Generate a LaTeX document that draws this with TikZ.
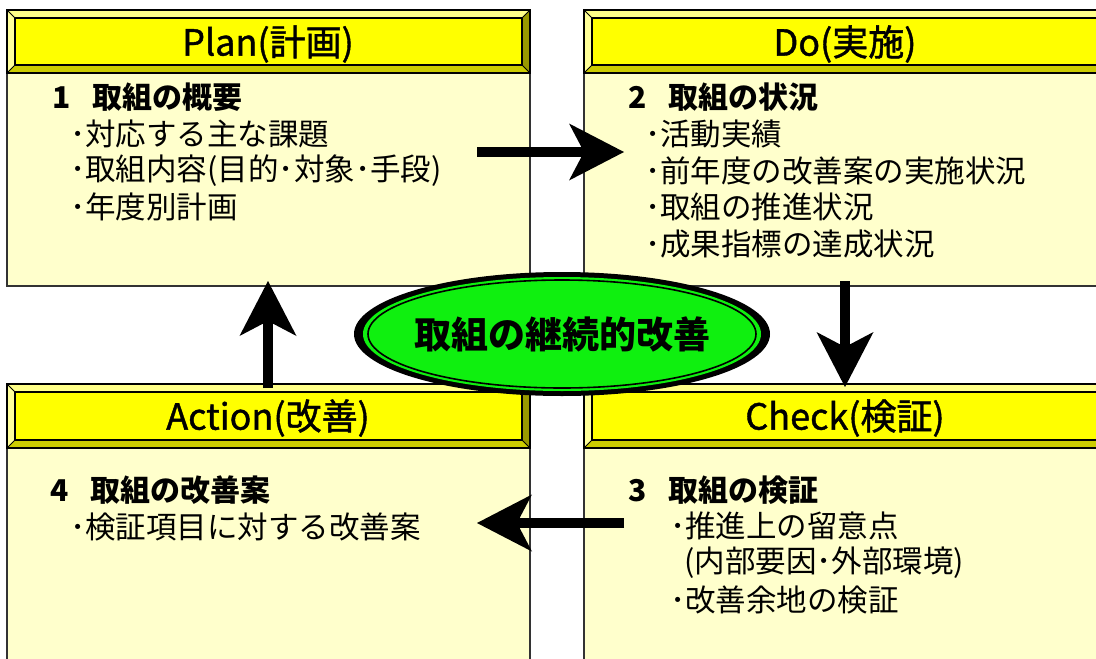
\documentclass[tikz,border=0pt]{standalone}
\usepackage{fontspec}
\setmainfont{Noto Sans CJK JP}
\newfontfamily\hdrfont[FakeBold=1.2]{Noto Sans CJK JP}
\usetikzlibrary{arrows.meta}
\definecolor{hdrfill}{HTML}{FFFF00}
\definecolor{bevtop}{HTML}{FFFF88}
\definecolor{bevleft}{HTML}{FFFF99}
\definecolor{bevbot}{HTML}{CCCC00}
\definecolor{bevright}{HTML}{999900}
\definecolor{bodyfill}{HTML}{FFFFCC}
\definecolor{ovalgreen}{HTML}{0FF00F}
\tikzset{
  hdrtext/.style={font=\hdrfont\fontsize{36}{40}\selectfont, inner sep=0pt},
  ttl/.style={anchor=west, font=\fontsize{30}{34}\selectfont\bfseries, inner sep=0pt},
  itm/.style={anchor=west, font=\fontsize{30.5}{34}\selectfont, inner sep=0pt},
  ovaltext/.style={font=\fontsize{37}{40}\selectfont\bfseries, inner sep=0pt},
  bigarrow/.style={line width=10pt, -{Stealth[length=55pt,width=57pt,inset=15pt,line width=0pt]}},
}
% #1 x1, #2 y1 (top), #3 x2, #4 y2 (header bottom), #5 y3 (body bottom)
\newcommand{\pdcabox}[5]{%
  \fill[bodyfill] (#1,#4) rectangle (#3,#5);
  \draw[draw=black!80, line width=1.3pt] (#1,#4) rectangle (#3,#5);
  \fill[bevtop] (#1,#2) -- (#3,#2) -- (#3-8,#2+8) -- (#1+8,#2+8) -- cycle;
  \fill[bevleft] (#1,#2) -- (#1+8,#2+8) -- (#1+8,#4-8) -- (#1,#4) -- cycle;
  \fill[bevbot] (#1,#4) -- (#1+8,#4-8) -- (#3-8,#4-8) -- (#3,#4) -- cycle;
  \fill[bevright] (#3,#2) -- (#3,#4) -- (#3-8,#4-8) -- (#3-8,#2+8) -- cycle;
  \fill[hdrfill] (#1+8,#2+8) rectangle (#3-8,#4-8);
  \draw[line width=1.4pt] (#1,#2) rectangle (#3,#4);
  \draw[line width=1.4pt] (#1+8,#2+8) rectangle (#3-8,#4-8);
  \draw[line width=0.8pt] (#1,#2) -- (#1+8,#2+8) (#3,#2) -- (#3-8,#2+8)
     (#1,#4) -- (#1+8,#4-8) (#3,#4) -- (#3-8,#4-8);
}
\begin{document}
\begin{tikzpicture}[x=1pt,y=-1pt]
\useasboundingbox (0,0) rectangle (1096,659);
\fill[white] (0,0) rectangle (1096,659);
\clip (0,0) rectangle (1096,659);

% boxes
\pdcabox{7}{10}{530}{73}{286}
\pdcabox{584}{10}{1106}{73}{286}
\pdcabox{7}{384}{530}{448}{680}
\pdcabox{584}{384}{1106}{448}{680}

% header titles
\node[hdrtext] (planhdr) at (268,44) {Plan(計画)};
\node[hdrtext] (dohdr) at (845,44) {Do(実施)};
\node[hdrtext] (acthdr) at (268,418) {Action(改善)};
\node[hdrtext] (chkhdr) at (845,418) {Check(検証)};

% Plan body
\node[ttl] (plant) at (52,97) {1\hspace{22pt}取組の概要};
\node[itm] (plan1) at (70,134) {･対応する主な課題};
\node[itm] (plan2) at (70,171) {･取組内容(目的･対象･手段)};
\node[itm] (plan3) at (70,207) {･年度別計画};

% Do body
\node[ttl] (dot) at (628,97) {2\hspace{22pt}取組の状況};
\node[itm] (do1) at (645,134) {･活動実績};
\node[itm] (do2) at (645,171) {･前年度の改善案の実施状況};
\node[itm] (do3) at (645,207) {･取組の推進状況};
\node[itm] (do4) at (645,244) {･成果指標の達成状況};

% Check body
\node[ttl] (chkt) at (628,490) {3\hspace{22pt}取組の検証};
\node[itm] (chk1) at (670,526) {･推進上の留意点};
\node[itm] (chk2) at (684,563) {(内部要因･外部環境)};
\node[itm] (chk3) at (670,600) {･改善余地の検証};

% Action body
\node[ttl] (actt) at (50,490) {4\hspace{22pt}取組の改善案};
\node[itm] (act1) at (70,527) {･検証項目に対する改善案};

% central oval
\fill[black] (562,334) ellipse [x radius=208, y radius=62];
\fill[ovalgreen] (562,334) ellipse [x radius=199, y radius=57];
\draw[black, line width=1.6pt] (562,334) ellipse [x radius=194, y radius=54];
\node[ovaltext] (center) at (562,334) {取組の継続的改善};

% arrows
\coordinate (ra) at (477,152);
\coordinate (rb) at (624,152);
\coordinate (da) at (845,281);
\coordinate (db) at (845,387);
\coordinate (la) at (624,523);
\coordinate (lb) at (477,523);
\coordinate (ua) at (268,388);
\coordinate (ub) at (268,281);
\draw[bigarrow] (ra) -- (rb);
\draw[bigarrow] (da) -- (db);
\draw[bigarrow] (la) -- (lb);
\draw[bigarrow] (ua) -- (ub);
\end{tikzpicture}
\end{document}
